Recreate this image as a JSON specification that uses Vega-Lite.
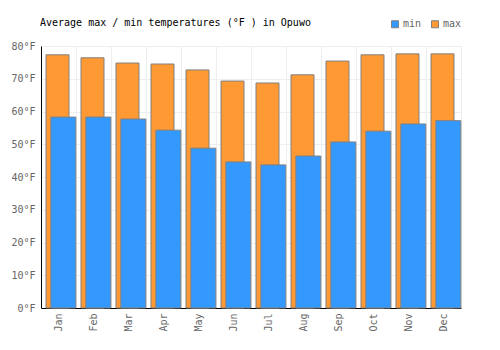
{
  "$schema": "https://vega.github.io/schema/vega-lite/v6.json",
  "autosize": {"type": "none"},
  "width": 420,
  "height": 262,
  "padding": {"left": 41, "top": 46, "right": 39, "bottom": 42},
  "config": {
    "font": "DejaVu Sans Mono",
    "view": {"stroke": "#eeeeee", "strokeWidth": 1},
    "axis": {"labelFont": "DejaVu Sans Mono", "labelFontSize": 10, "labelColor": "#666666", "gridColor": "#eeeeee", "gridWidth": 1, "domainColor": "#000000", "domainWidth": 1, "ticks": false, "title": null, "labelOverlap": false}
  },
  "title": {"text": "Average max / min temperatures (°F ) in Opuwo", "anchor": "start", "frame": "group", "orient": "top", "offset": -14, "baseline": "middle", "font": "DejaVu Sans Mono", "fontSize": 10, "fontWeight": "normal", "color": "#000000", "dx": -1},
  "data": {"values": [
    {"month": "Jan", "min": 58.3, "max": 77.3},
    {"month": "Feb", "min": 58.3, "max": 76.4},
    {"month": "Mar", "min": 57.7, "max": 74.8},
    {"month": "Apr", "min": 54.3, "max": 74.5},
    {"month": "May", "min": 48.8, "max": 72.7},
    {"month": "Jun", "min": 44.6, "max": 69.3},
    {"month": "Jul", "min": 43.7, "max": 68.7},
    {"month": "Aug", "min": 46.4, "max": 71.2},
    {"month": "Sep", "min": 50.7, "max": 75.4},
    {"month": "Oct", "min": 54.0, "max": 77.3},
    {"month": "Nov", "min": 56.2, "max": 77.6},
    {"month": "Dec", "min": 57.2, "max": 77.6}
  ]},
  "encoding": {
    "x": {"field": "month", "type": "nominal", "sort": null,
      "scale": {"paddingInner": 0, "paddingOuter": 0},
      "axis": {"bandPosition": 0, "grid": true, "labelAngle": -90, "labelAlign": "right", "labelBaseline": "middle", "labelPadding": 5}
    }
  },
  "layer": [
    {
      "mark": {"type": "bar", "width": 23, "xOffset": -1, "stroke": "#808080", "strokeWidth": 1},
      "encoding": {
        "y": {"field": "max", "type": "quantitative",
          "scale": {"domain": [0, 80], "nice": false},
          "axis": {"values": [0, 10, 20, 30, 40, 50, 60, 70, 80], "labelExpr": "datum.value + '°F'", "grid": true, "labelPadding": 6, "labelOverlap": false}
        },
        "color": {"datum": "max", "type": "nominal",
          "scale": {"domain": ["min", "max"], "range": ["#3399ff", "#ff9933"]},
          "legend": {"title": null, "orient": "none", "legendX": 349, "legendY": -27, "direction": "horizontal", "symbolType": "square", "symbolSize": 49, "symbolStrokeColor": "#666666", "symbolStrokeWidth": 1, "labelFont": "DejaVu Sans Mono", "labelFontSize": 10, "labelColor": "#666666", "columnPadding": 7, "labelOffset": 3, "padding": 0, "symbolOffset": 0}
        }
      }
    },
    {
      "mark": {"type": "bar", "width": 25, "xOffset": 4.85, "stroke": "#808080", "strokeWidth": 1},
      "encoding": {
        "y": {"field": "min", "type": "quantitative",
          "scale": {"domain": [0, 80], "nice": false},
          "axis": {"values": [0, 10, 20, 30, 40, 50, 60, 70, 80], "labelExpr": "datum.value + '°F'", "grid": true, "labelPadding": 6, "labelOverlap": false}
        },
        "color": {"datum": "min", "type": "nominal"}
      }
    }
  ]
}
